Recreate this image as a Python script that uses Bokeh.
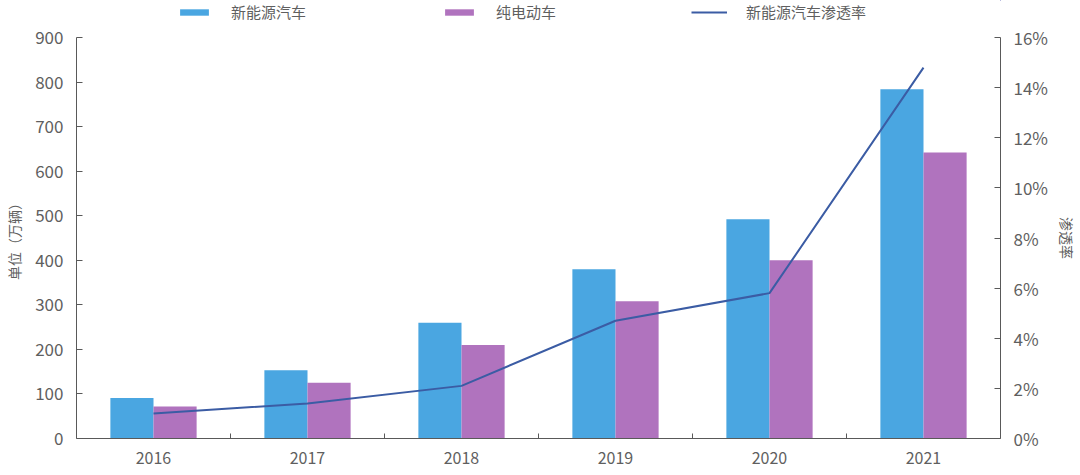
import numpy as np
from bokeh.plotting import figure
from bokeh.layouts import column
from bokeh.models import (Range1d, LinearAxis, FixedTicker, PrintfTickFormatter,
                          Legend, LegendItem, ColumnDataSource)
from bokeh.embed import file_html
from bokeh.resources import INLINE

years = ["2016", "2017", "2018", "2019", "2020", "2021"]
nev = [91, 153, 260, 380, 492, 784]        # 新能源汽车 (万辆)
bev = [72, 125, 210, 308, 400, 642]        # 纯电动车 (万辆)
pen = [1.0, 1.4, 2.1, 4.7, 5.8, 14.8]      # 新能源汽车渗透率 (%)
left_ticks = [0, 100, 200, 300, 400, 500, 600, 700, 800, 900]
right_ticks = [0, 2, 4, 6, 8, 10, 12, 14, 16]
series_names = ["新能源汽车", "纯电动车", "新能源汽车渗透率"]

BLUE = "#4aa6e1"
PURPLE = "#b073be"
LINE = "#3b5ca4"
GREY = "#595959"
TXT = "#5f5f5f"
CJK = "Noto Sans CJK SC"

n = len(years)
xc = np.arange(n) + 0.5
bw = 0.28
src = ColumnDataSource(dict(x=xc, xl=xc - bw / 2, xr=xc + bw / 2,
                            nev=nev, bev=bev, pen=pen))

# ---------------- main chart ----------------
p = figure(width=1080, height=450, output_backend="svg", toolbar_location=None,
           x_range=Range1d(0, n), y_range=Range1d(0, 900),
           min_border_left=76, min_border_right=78,
           min_border_top=15, min_border_bottom=34)
p.extra_y_ranges = {"pct": Range1d(0, 16)}
p.outline_line_color = None
p.xgrid.visible = False
p.ygrid.visible = False
p.background_fill_color = "white"
p.border_fill_color = "white"

p.vbar(x="xl", top="nev", width=bw, source=src, fill_color=BLUE, line_color=None)
p.vbar(x="xr", top="bev", width=bw, source=src, fill_color=PURPLE, line_color=None)
p.line(x="x", y="pen", source=src, line_color=LINE, line_width=2, y_range_name="pct")

# bottom axis
xa = p.xaxis[0]
xa.ticker = FixedTicker(ticks=list(xc), minor_ticks=list(np.arange(1, n)))
xa.major_label_overrides = {float(v): y for v, y in zip(xc, years)}
xa.major_tick_in = 0
xa.major_tick_out = 0
xa.minor_tick_in = 5
xa.minor_tick_out = 0
xa.axis_line_color = GREY
xa.minor_tick_line_color = GREY
xa.major_label_text_font = CJK
xa.major_label_text_font_size = "16px"
xa.major_label_text_color = TXT
xa.major_label_standoff = 13

# left axis
ya = p.yaxis[0]
ya.ticker = FixedTicker(ticks=left_ticks)
ya.major_tick_in = 6
ya.major_tick_out = 0
ya.minor_tick_in = 0
ya.minor_tick_out = 0
ya.axis_line_color = GREY
ya.major_tick_line_color = GREY
ya.major_label_text_font = CJK
ya.major_label_text_font_size = "17px"
ya.major_label_text_color = TXT
ya.major_label_standoff = 13
ya.axis_label = "单位（万辆）"
ya.axis_label_text_font = CJK
ya.axis_label_text_font_style = "normal"
ya.axis_label_text_font_size = "14px"
ya.axis_label_text_color = TXT
ya.axis_label_standoff = 8

# right axis
ra = LinearAxis(y_range_name="pct", ticker=FixedTicker(ticks=right_ticks),
                formatter=PrintfTickFormatter(format="%d%%"))
ra.major_tick_in = 6
ra.major_tick_out = 0
ra.minor_tick_in = 0
ra.minor_tick_out = 0
ra.axis_line_color = GREY
ra.major_tick_line_color = GREY
ra.major_label_text_font = CJK
ra.major_label_text_font_size = "17px"
ra.major_label_text_color = TXT
ra.major_label_standoff = 13
ra.axis_label = "渗透率"
ra.axis_label_text_font = CJK
ra.axis_label_text_font_style = "normal"
ra.axis_label_text_font_size = "14px"
ra.axis_label_text_color = TXT
ra.axis_label_standoff = 6
p.add_layout(ra, "right")

# ---------------- legend strip ----------------
lg = figure(width=1080, height=22, output_backend="svg", toolbar_location=None,
            x_range=Range1d(-20, -10), y_range=Range1d(-20, -10),
            x_axis_location=None, y_axis_location=None,
            min_border_left=0, min_border_right=0,
            min_border_top=0, min_border_bottom=0)
lg.grid.visible = False
lg.outline_line_color = None
lg.background_fill_color = "white"
lg.border_fill_color = "white"
# same series drawn out of view; only their legend swatches show
l1 = lg.vbar(x="xl", top="nev", width=bw, source=src, fill_color=BLUE, line_color=None)
l2 = lg.vbar(x="xr", top="bev", width=bw, source=src, fill_color=PURPLE, line_color=None)
l3 = lg.line(x="x", y="pen", source=src, line_color=LINE, line_width=2)

legend = Legend(items=[LegendItem(label=series_names[0], renderers=[l1]),
                       LegendItem(label=series_names[1], renderers=[l2]),
                       LegendItem(label=series_names[2], renderers=[l3])],
                orientation="horizontal", location=(100, 0),
                glyph_width=36, glyph_height=8, label_height=16,
                label_standoff=19, spacing=135,
                padding=0, margin=0, border_line_color=None,
                background_fill_alpha=0,
                label_text_font=CJK, label_text_font_size="15px",
                label_text_color=TXT)
lg.add_layout(legend, "center")

page = column(lg, p, spacing=0)
open("out.html", "w").write(file_html(page, INLINE))
